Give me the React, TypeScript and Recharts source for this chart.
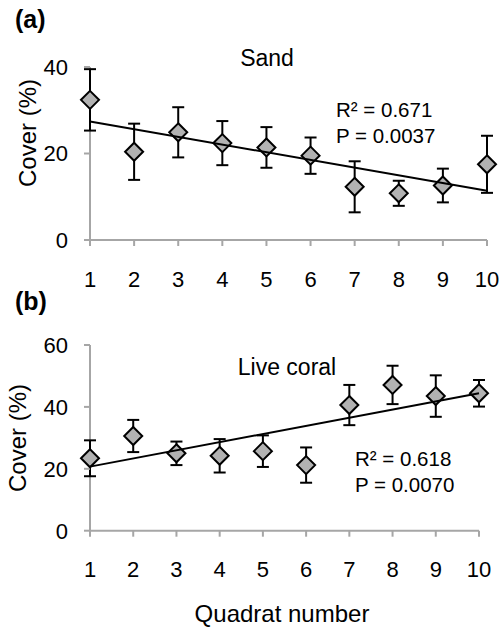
import { ComposedChart, Scatter, XAxis, YAxis, ErrorBar, ReferenceLine } from "recharts";

const quadrats = [1, 2, 3, 4, 5, 6, 7, 8, 9, 10];
const sandCover = [32.4, 20.4, 24.9, 22.4, 21.4, 19.5, 12.3, 10.8, 12.6, 17.5];
const sandErr = [7.1, 6.5, 5.8, 5.1, 4.7, 4.2, 5.9, 2.9, 3.9, 6.6];
const sandTrend = [27.4, 11.4];
const coralCover = [23.4, 30.6, 25.0, 24.2, 25.7, 21.2, 40.6, 47.1, 43.5, 44.4];
const coralErr = [5.8, 5.2, 3.8, 5.4, 5.1, 5.7, 6.5, 6.2, 6.7, 4.3];
const coralTrend = [20.7, 44.4];
const sandTicks = [0, 20, 40];
const coralTicks = [0, 20, 40, 60];

const font = "'Liberation Sans', Arial, sans-serif";
const axisGray = "#a6a6a6";

const sandData = quadrats.map((q, i) => ({ x: q, y: sandCover[i], err: sandErr[i] }));
const coralData = quadrats.map((q, i) => ({ x: q, y: coralCover[i], err: coralErr[i] }));
const sandLine = [
  { x: quadrats[0], y: sandTrend[0] },
  { x: quadrats[quadrats.length - 1], y: sandTrend[1] },
];
const coralLine = [
  { x: quadrats[0], y: coralTrend[0] },
  { x: quadrats[quadrats.length - 1], y: coralTrend[1] },
];

const Diamond = (props: any) => {
  const { cx, cy } = props;
  const r = 9;
  return (
    <polygon
      points={`${cx},${cy - r} ${cx + r},${cy} ${cx},${cy + r} ${cx - r},${cy}`}
      fill="#b2b2b2"
      stroke="#000"
      strokeWidth={2}
    />
  );
};

const NoDot = () => <g />;

const axisProps = {
  axisLine: { stroke: axisGray, strokeWidth: 2 },
  tickLine: { stroke: axisGray, strokeWidth: 2 },
  tickSize: 6,
  tick: { fill: "#000", fontSize: 22, fontFamily: font },
};

export default function App() {
  return (
    <div style={{ position: "absolute", left: 0, top: 0, width: 503, height: 628, background: "#fff" }}>
      {/* the two panels overlap a little; panel (a)'s svg also carries the "(b)" tag */}
      <div style={{ position: "absolute", left: 0, top: 290 }}>
        <ComposedChart width={503} height={338} data={coralData} margin={{ top: 55, right: 24, bottom: 0, left: 0 }}>
          <XAxis
            type="number"
            dataKey="x"
            domain={[1, 10]}
            ticks={quadrats}
            height={97.3}
            tickMargin={25}
            interval={0}
            {...axisProps}
          />
          <YAxis
            type="number"
            dataKey="y"
            domain={[0, 60]}
            ticks={coralTicks}
            width={90}
            tickMargin={16}
            {...axisProps}
            axisLine={false}
          />
          <ReferenceLine x={1} stroke={axisGray} strokeWidth={2} />
          <Scatter data={coralData} shape={Diamond} isAnimationActive={false}>
            <ErrorBar dataKey="err" direction="y" width={6} stroke="#000" strokeWidth={2} />
          </Scatter>
          <Scatter data={coralLine} line={{ stroke: "#000", strokeWidth: 2 }} shape={NoDot} isAnimationActive={false} />
          <text x={287} y={85} fontFamily={font} fontSize={23} textAnchor="middle">Live coral</text>
          <text x={355} y={176} fontFamily={font} fontSize={20.5}>R² = 0.618</text>
          <text x={355} y={202} fontFamily={font} fontSize={20.5}>P = 0.0070</text>
          <text x={282} y={332} fontFamily={font} fontSize={24} textAnchor="middle">Quadrat number</text>
          <text
            x={17}
            y={148}
            fontFamily={font}
            fontSize={24}
            textAnchor="middle"
            dominantBaseline="central"
            transform="rotate(-90 17 148)"
          >
            Cover (%)
          </text>
        </ComposedChart>
      </div>
      <div style={{ position: "absolute", left: 0, top: 0 }}>
        <ComposedChart width={503} height={320} data={sandData} margin={{ top: 67, right: 16, bottom: 0, left: 0 }}>
          <XAxis
            type="number"
            dataKey="x"
            domain={[1, 10]}
            ticks={quadrats}
            height={80}
            tickMargin={25}
            interval={0}
            {...axisProps}
          />
          <YAxis
            type="number"
            dataKey="y"
            domain={[0, 40]}
            ticks={sandTicks}
            width={90}
            tickMargin={16}
            {...axisProps}
            axisLine={false}
          />
          {/* y axis line drawn first so the error bar at quadrat 1 sits on top */}
          <ReferenceLine x={1} stroke={axisGray} strokeWidth={2} />
          <Scatter data={sandData} shape={Diamond} isAnimationActive={false}>
            <ErrorBar dataKey="err" direction="y" width={6} stroke="#000" strokeWidth={2} />
          </Scatter>
          <Scatter data={sandLine} line={{ stroke: "#000", strokeWidth: 2 }} shape={NoDot} isAnimationActive={false} />
          <text x={15} y={28} fontFamily={font} fontSize={25} fontWeight="bold">(a)</text>
          <text x={267} y={66} fontFamily={font} fontSize={23} textAnchor="middle">Sand</text>
          <text x={336} y={117} fontFamily={font} fontSize={20.5}>R² = 0.671</text>
          <text x={336} y={143} fontFamily={font} fontSize={20.5}>P = 0.0037</text>
          <text
            x={27}
            y={133}
            fontFamily={font}
            fontSize={24}
            textAnchor="middle"
            dominantBaseline="central"
            transform="rotate(-90 27 133)"
          >
            Cover (%)
          </text>
          <text x={15} y={310} fontFamily={font} fontSize={25} fontWeight="bold">(b)</text>
        </ComposedChart>
      </div>
    </div>
  );
}
